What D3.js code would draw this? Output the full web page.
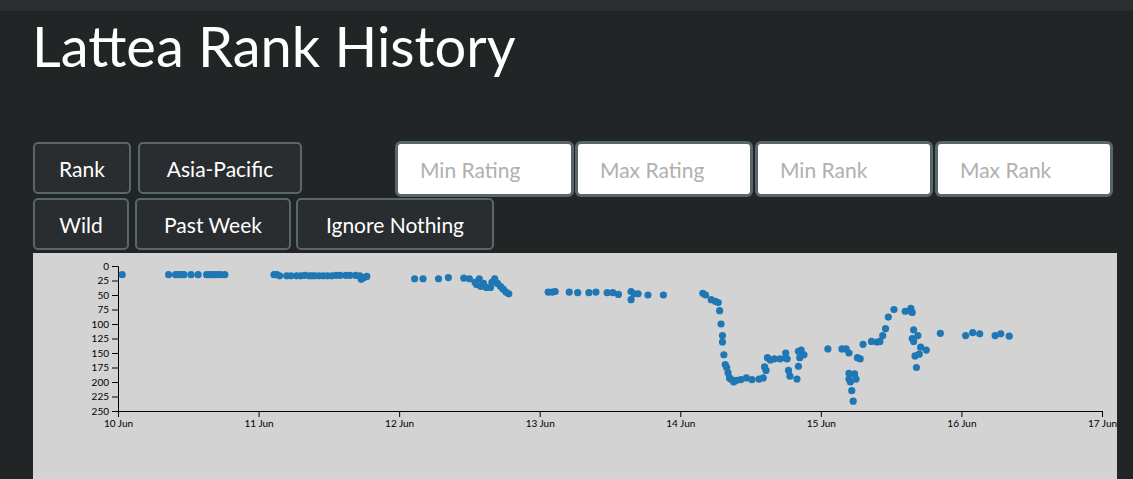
<!DOCTYPE html><html><head><meta charset="utf-8">
<script src="https://cdn.jsdelivr.net/npm/d3@7"></script>
<style>
body{margin:0;background:#222526;font-family:Lato,sans-serif;width:1133px;height:479px;overflow:hidden;position:relative}
.top{position:absolute;left:0;top:0;width:1133px;height:11px;background:#2c2f31}
h1{position:absolute;left:32px;top:12px;margin:0;font-weight:400;font-size:56px;color:#fff;line-height:68px}
.b{position:absolute;height:52px;border:2px solid #59666a;border-radius:5px;background:#2a2d2f;color:#fff;font-size:21px;display:flex;align-items:center;justify-content:center;box-sizing:border-box}
.i{position:absolute;height:56px;border:3px solid #59666a;border-radius:6px;background:#fff;color:#b0b0b0;font-size:21px;display:flex;align-items:center;padding-left:22px;box-sizing:border-box}
#chart{position:absolute;left:33px;top:253px}
</style></head><body>
<div class="top"></div>
<h1>Lattea Rank History</h1>
<div class="b" style="left:33px;top:142px;width:98px">Rank</div>
<div class="b" style="left:138px;top:142px;width:164px">Asia-Pacific</div>
<div class="b" style="left:33px;top:198px;width:96px">Wild</div>
<div class="b" style="left:135px;top:198px;width:156px">Past Week</div>
<div class="b" style="left:296px;top:198px;width:198px">Ignore Nothing</div>
<div class="i" style="left:395px;top:141px;width:179px">Min Rating</div>
<div class="i" style="left:575px;top:141px;width:178px">Max Rating</div>
<div class="i" style="left:755px;top:141px;width:178px">Min Rank</div>
<div class="i" style="left:935px;top:141px;width:178px">Max Rank</div>
<svg id="chart" width="1084" height="226"></svg>
<script>
// days since 10 Jun 00:00
const days=[0.03,0.36,0.41,0.43,0.45,0.47,0.52,0.57,0.63,0.65,0.67,0.69,0.71,0.73,0.76,
1.11,1.13,1.15,1.20,1.23,1.27,1.30,1.33,1.36,1.38,1.40,1.43,1.46,1.49,1.52,1.55,1.58,1.62,1.65,1.69,1.72,1.73,1.75,1.77,
2.11,2.17,2.28,2.35,2.46,2.50,2.54,2.55,2.57,2.58,2.60,2.62,2.65,2.66,2.68,2.70,2.72,2.74,2.76,2.78,
3.06,3.09,3.11,3.21,3.27,3.35,3.40,3.48,3.52,3.56,3.65,3.65,3.67,3.70,3.77,3.88,
4.16,4.18,4.22,4.25,4.27,4.28,4.29,4.30,4.30,4.31,4.32,4.33,4.34,4.35,4.36,4.38,4.40,4.43,4.47,4.51,4.56,4.59,4.60,4.61,4.62,4.64,4.67,4.71,4.75,4.75,4.76,4.77,4.78,4.83,4.84,4.84,4.85,4.86,4.88,
5.05,5.15,5.18,5.20,5.20,5.20,5.21,5.22,5.23,5.24,5.25,5.26,5.28,5.30,5.36,5.40,5.42,5.44,5.46,5.48,5.52,5.60,5.64,5.64,5.65,5.65,5.66,5.66,5.67,5.68,5.69,5.70,5.71,5.75,5.85,
6.03,6.08,6.13,6.24,6.28,6.34];
const ranks=[15,15,15,15,15,15,15,15,15,15,15,15,15,15,15,
15,15,17,17,17,17,17,16,17,17,17,17,17,17,17,16,16,16,16,16,17,23,20,18,
22,22,22,20,21,22,28,32,22,35,30,37,37,28,22,30,35,40,45,48,
45,45,44,45,46,46,45,46,46,49,44,58,48,48,50,50,
47,50,58,61,63,77,100,120,131,153,170,175,184,193,195,200,197,196,193,196,195,193,174,180,158,162,160,160,159,150,160,180,190,195,173,147,158,145,153,
143,143,143,150,185,195,200,215,233,186,195,158,160,135,130,131,130,120,108,88,75,78,73,78,80,125,110,130,155,175,120,152,140,145,116,
120,115,117,120,117,121];
const xTicks=["10 Jun","11 Jun","12 Jun","13 Jun","14 Jun","15 Jun","16 Jun","17 Jun"];
const yTicks=[0,25,50,75,100,125,150,175,200,225,250];

const svg=d3.select("#chart");
svg.append("rect").attr("width",1084).attr("height",226).attr("fill","#d3d3d3");
const g=svg.append("g").attr("transform","translate(85,13)");
const x=d3.scaleLinear().domain([0,7]).range([0,984]);
const y=d3.scaleLinear().domain([0,250]).range([0,145]);
g.append("g").attr("transform","translate(0,145)").call(d3.axisBottom(x).tickValues(d3.range(8)).tickFormat(i=>xTicks[i]))
 .selectAll("text").attr("font-family","Lato").attr("font-size",10).attr("fill","#000");
g.append("g").call(d3.axisLeft(y).tickValues(yTicks))
 .selectAll("text").attr("font-family","Lato").attr("font-size",10).attr("fill","#000");
g.selectAll("circle").data(days).join("circle").attr("cx",d=>x(d)).attr("cy",(d,i)=>y(ranks[i])).attr("r",3.6).attr("fill","#1f77b4");
</script></body></html>
